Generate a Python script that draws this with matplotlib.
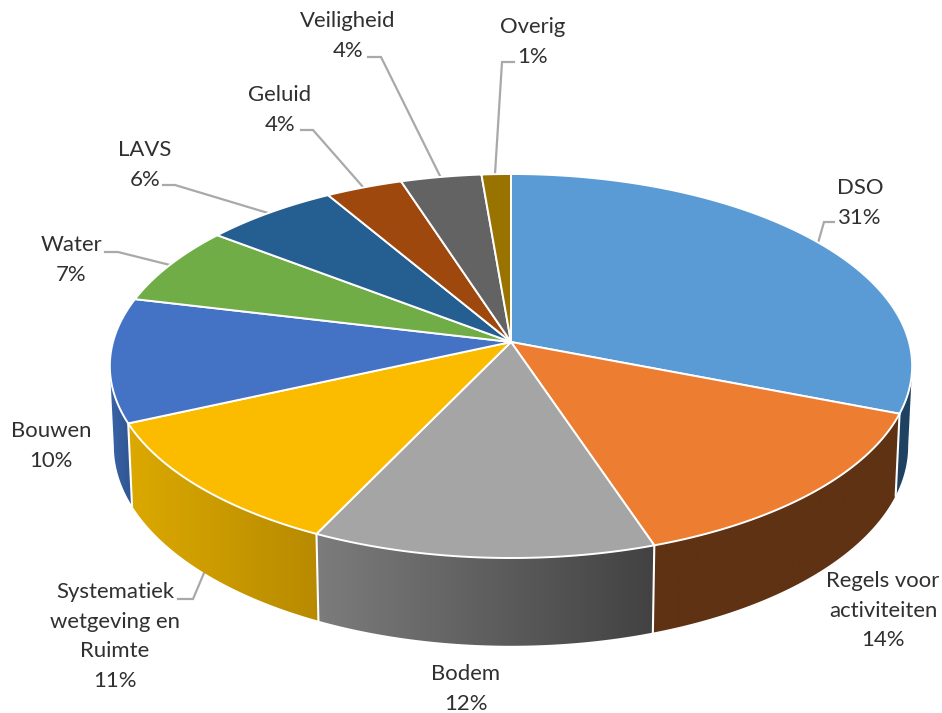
#Taartdiagram in Excel-stijl (3D met perspectief)
import numpy as np
import matplotlib.pyplot as plt
from matplotlib.colors import to_rgb
from matplotlib.patches import Polygon

plt.rcParams['font.family'] = ['Lato', 'DejaVu Sans']

#Data
categorieen = ['DSO', 'Regels voor\nactiviteiten', 'Bodem', 'Systematiek\nwetgeving en\nRuimte', 'Bouwen',
               'Water', 'LAVS', 'Geluid', 'Veiligheid', 'Overig']
waarden = [30.9, 13.96, 12.28, 11.16, 10.45, 6.65, 6.1, 3.5, 3.67, 1.33]
percentages = [31, 14, 12, 11, 10, 7, 6, 4, 4, 1]

#Stijl
kleuren = ['#5B9BD5', '#ED7D31', '#A5A5A5', '#FBBC00', '#4472C4', '#70AD47', '#255E91', '#9E480E', '#636363', '#997300']
zijkant_links = {0: '#1F4262', 1: '#5F3213', 2: '#7C7C7C', 3: '#DCA900', 4: '#3A64A8'}
zijkant_rechts = {0: '#1F4262', 1: '#5F3213', 2: '#424242', 3: '#B78A00', 4: '#2F5490'}

#Plaats van de labels in pixels (midden x, basislijn van de eerste regel)
label_pos = [(860, 194), (883, 587), (466, 680), (115, 598), (51, 437),
             (71, 251), (145, 156), (280, 101), (348, 27), (533, 33)]
regel = 29.7

#Verwijslijnen in pixels
lijnen = [[(818, 243), (824, 222), (834, 222)], None, None, [(178, 599), (193, 599), (204, 573)], None,
          [(105, 252), (118, 252), (170, 265)], [(163, 185), (175, 185), (268, 213)],
          [(301, 130), (313, 130), (363, 187)], [(368, 57), (381, 57), (440, 176)],
          [(514, 62), (502, 62), (495, 174)]]

#Perspectief van de cirkel
cx, cy = 511, 342
A, B, k = 398, 189, 0.125


def punt_boven(phi):
    '''Punt op de rand van het bovenvlak, phi in graden met de klok mee vanaf boven.'''
    th = np.radians(90 - np.asarray(phi, dtype=float))
    n = 1 + k * np.sin(th)
    return cx + A * np.cos(th) / n, cy - B * np.sin(th) / n


def punt_onder(phi):
    x, y = punt_boven(phi)
    return cx + 0.99 * (x - cx), cy + 0.99 * (y - cy) + 82.7 + 0.05 * (y - 413)


fig = plt.figure(figsize=(9.42, 7.13), dpi=100)
ax = fig.add_axes([0, 0, 1, 1])

hoeken = np.concatenate([[0], np.cumsum(waarden)]) / np.sum(waarden) * 360
rand = np.degrees(np.arcsin(k))
zicht_van, zicht_tot = 90 + rand, 270 - rand

#Zijkanten met een verloop van links naar rechts
for i in range(len(waarden)):
    van, tot = max(hoeken[i], zicht_van), min(hoeken[i + 1], zicht_tot)
    if tot <= van:
        continue
    phi = np.linspace(van, tot, 100)
    xb, yb = punt_boven(phi)
    xo, yo = punt_onder(phi)
    links = np.array(to_rgb(zijkant_links[i]))
    rechts = np.array(to_rgb(zijkant_rechts[i]))
    t = np.linspace(0, 1, 256)[None, :, None]
    xmin, xmax = min(xb.min(), xo.min()), max(xb.max(), xo.max())
    beeld = ax.imshow(links + (rechts - links) * t, extent=(xmin, xmax, 713, 0), aspect='auto', zorder=2)
    vlak = Polygon(np.c_[np.r_[xb, xo[::-1]], np.r_[yb, yo[::-1]]], transform=ax.transData)
    beeld.set_clip_path(vlak)
    #witte scheiding
    if hoeken[i] >= zicht_van:
        xs, ys = punt_boven(hoeken[i])
        xt, yt = punt_onder(hoeken[i])
        ax.plot([xs, xt], [ys, yt], color='white', lw=1.5, zorder=3)

#Bovenvlak
for i in range(len(waarden)):
    phi = np.linspace(hoeken[i], hoeken[i + 1], 200)
    x, y = punt_boven(phi)
    ax.fill(np.r_[cx, x], np.r_[cy, y], facecolor=kleuren[i], edgecolor='white', lw=1.4, zorder=4)

#Labels
for i, naam in enumerate(categorieen):
    regels = naam.split('\n') + [f'{percentages[i]}%']
    xl, yl = label_pos[i]
    for n, tekst in enumerate(regels):
        ax.text(xl, yl + n * regel, tekst, ha='center', va='baseline', fontsize=15.9, color='#303030', zorder=6)
    if lijnen[i] is not None:
        ax.plot(*zip(*lijnen[i]), color='#A9A9A9', lw=1.6, zorder=1, solid_joinstyle='miter')

ax.set_xlim(0, 942)
ax.set_ylim(713, 0)
ax.axis('off')

plt.savefig('out.png', dpi=100)
